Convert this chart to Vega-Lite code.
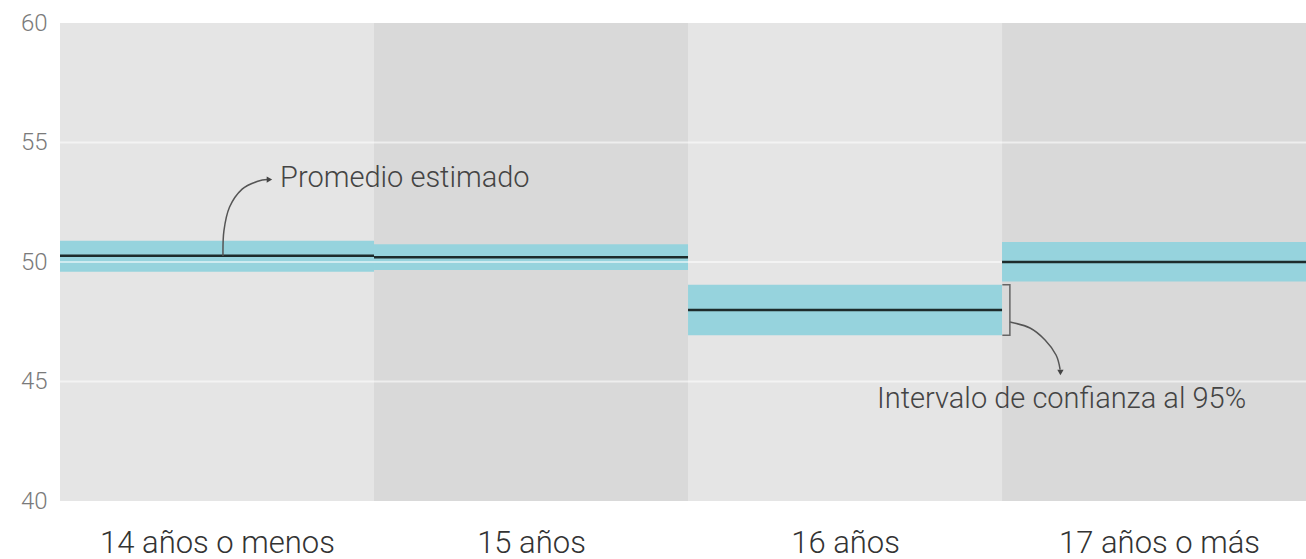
{
  "$schema": "https://vega.github.io/schema/vega-lite/v6.json",
  "width": 1246,
  "height": 478,
  "autosize": "none",
  "padding": {"left": 60, "top": 23, "right": 0, "bottom": 58},
  "background": "white",
  "config": {"view": {"stroke": null}},
  "datasets": {
    "cats": [
      {"grupo": "14 años o menos", "x0": 0, "x1": 1, "shade": "a", "lo": 49.59, "hi": 50.89, "m": 50.26},
      {"grupo": "15 años", "x0": 1, "x1": 2, "shade": "b", "lo": 49.67, "hi": 50.74, "m": 50.2},
      {"grupo": "16 años", "x0": 2, "x1": 3, "shade": "a", "lo": 46.93, "hi": 49.05, "m": 47.99},
      {"grupo": "17 años o más", "x0": 3, "x1": 4, "shade": "b", "lo": 49.18, "hi": 50.84, "m": 50.0}
    ],
    "grid": [{"v": 45}, {"v": 50}, {"v": 55}],
    "arrows": [
      {"g": "a", "k": 0, "x": 0.519, "y": 50.25},
      {"g": "a", "k": 1, "x": 0.522, "y": 51.3},
      {"g": "a", "k": 2, "x": 0.54, "y": 52.3},
      {"g": "a", "k": 3, "x": 0.58, "y": 53.05},
      {"g": "a", "k": 4, "x": 0.63, "y": 53.38},
      {"g": "a", "k": 5, "x": 0.66, "y": 53.45},
      {"g": "b", "k": 0, "x": 3.025, "y": 47.49},
      {"g": "b", "k": 1, "x": 3.089, "y": 47.24},
      {"g": "b", "k": 2, "x": 3.137, "y": 46.74},
      {"g": "b", "k": 3, "x": 3.172, "y": 46.11},
      {"g": "b", "k": 4, "x": 3.185, "y": 45.5}
    ],
    "heads": [
      {"x": 0.667, "y": 53.45, "shape": "triangle-right"},
      {"x": 3.186, "y": 45.38, "shape": "triangle-down"}
    ],
    "bracket": [
      {"k": 0, "x": 3.001, "y": 49.05},
      {"k": 1, "x": 3.025, "y": 49.05},
      {"k": 2, "x": 3.025, "y": 46.93},
      {"k": 3, "x": 3.001, "y": 46.93}
    ],
    "notes": [
      {"x": 0.701, "y": 53.14, "t": "Promedio estimado"},
      {"x": 2.602, "y": 43.89, "t": "Intervalo de confianza al 95%"}
    ]
  },
  "layer": [
    {
      "data": {"name": "cats"},
      "mark": {"type": "rect", "clip": true},
      "encoding": {
        "x": {
          "field": "x0", "type": "quantitative",
          "scale": {"domain": [0, 3.968], "nice": false, "zero": false},
          "axis": {
            "values": [0.5, 1.5, 2.5, 3.5],
            "labelExpr": "['14 años o menos','15 años','16 años','17 años o más'][round(datum.value - 0.5)]",
            "title": null, "domain": false, "ticks": false, "grid": false,
            "labelFont": "Roboto", "labelFontWeight": 300, "labelFontSize": 31,
            "labelColor": "#333333", "labelBaseline": "alphabetic", "labelPadding": 51,
            "labelAlign": "center", "labelFlush": false, "labelOverlap": false, "labelLimit": 0
          }
        },
        "x2": {"field": "x1"},
        "y": {
          "datum": 40, "type": "quantitative",
          "scale": {"domain": [40, 60], "nice": false, "zero": false},
          "axis": {
            "values": [40, 45, 50, 55, 60],
            "title": null, "domain": false, "ticks": false, "grid": false,
            "labelFont": "Roboto", "labelFontWeight": 300, "labelFontSize": 24,
            "labelColor": "#7a7a7a", "labelPadding": 13, "labelFlush": false
          }
        },
        "y2": {"datum": 60},
        "color": {"field": "shade", "type": "nominal", "scale": {"domain": ["a", "b"], "range": ["#e5e5e5", "#d9d9d9"]}, "legend": null}
      }
    },
    {
      "data": {"name": "cats"},
      "mark": {"type": "rect", "color": "#96d3dd", "clip": true},
      "encoding": {
        "x": {"field": "x0", "type": "quantitative"},
        "x2": {"field": "x1"},
        "y": {"field": "lo", "type": "quantitative"},
        "y2": {"field": "hi"}
      }
    },
    {
      "data": {"name": "grid"},
      "mark": {"type": "rule", "color": "white", "opacity": 0.55, "strokeWidth": 2},
      "encoding": {
        "y": {"field": "v", "type": "quantitative"}
      }
    },
    {
      "data": {"name": "cats"},
      "mark": {"type": "rule", "color": "#1d2b2b", "strokeWidth": 2.5, "clip": true},
      "encoding": {
        "x": {"field": "x0", "type": "quantitative"},
        "x2": {"field": "x1"},
        "y": {"field": "m", "type": "quantitative"}
      }
    },
    {
      "data": {"name": "arrows"},
      "mark": {"type": "line", "interpolate": "cardinal", "color": "#555555", "strokeWidth": 1.5},
      "encoding": {
        "x": {"field": "x", "type": "quantitative"},
        "y": {"field": "y", "type": "quantitative"},
        "detail": {"field": "g", "type": "nominal"},
        "order": {"field": "k", "type": "quantitative"}
      }
    },
    {
      "data": {"name": "bracket"},
      "mark": {"type": "line", "color": "#666666", "strokeWidth": 1.5},
      "encoding": {
        "x": {"field": "x", "type": "quantitative"},
        "y": {"field": "y", "type": "quantitative"},
        "order": {"field": "k", "type": "quantitative"}
      }
    },
    {
      "data": {"name": "heads"},
      "mark": {"type": "point", "filled": true, "color": "#444444", "size": 40, "opacity": 1},
      "encoding": {
        "x": {"field": "x", "type": "quantitative"},
        "y": {"field": "y", "type": "quantitative"},
        "shape": {"field": "shape", "type": "nominal", "scale": null}
      }
    },
    {
      "data": {"name": "notes"},
      "mark": {"type": "text", "align": "left", "baseline": "alphabetic", "font": "Roboto", "fontWeight": 300, "fontSize": 29, "color": "#444444"},
      "encoding": {
        "x": {"field": "x", "type": "quantitative"},
        "y": {"field": "y", "type": "quantitative"},
        "text": {"field": "t"}
      }
    }
  ]
}
